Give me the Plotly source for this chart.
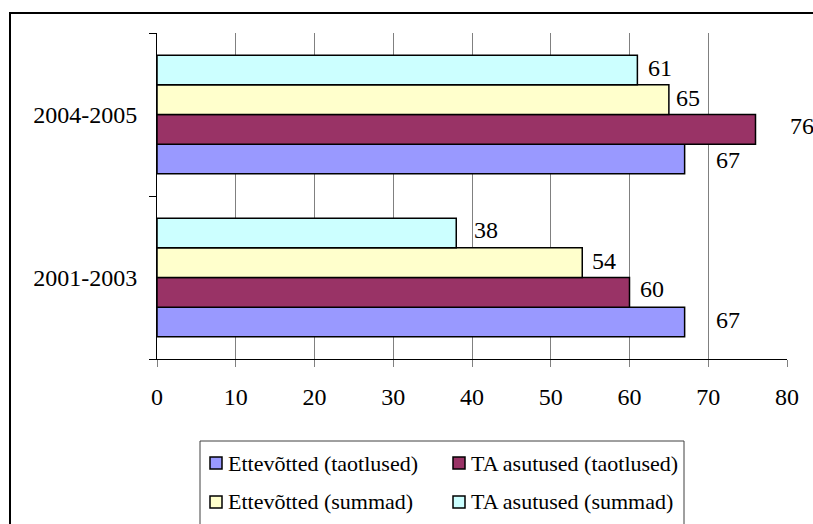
import plotly.graph_objects as go

# ---- data ----
periods = ["2001-2003", "2004-2005"]
series_names = [
    "Ettevõtted (taotlused)",
    "TA asutused (taotlused)",
    "Ettevõtted (summad)",
    "TA asutused (summad)",
]
ettevotted_taotlused = [67, 67]
ta_asutused_taotlused = [60, 76]
ettevotted_summad = [54, 65]
ta_asutused_summad = [38, 61]
x_ticks = [0, 10, 20, 30, 40, 50, 60, 70, 80]

series_values = [
    ettevotted_taotlused,
    ta_asutused_taotlused,
    ettevotted_summad,
    ta_asutused_summad,
]

# ---- styling ----
colors = ["#9999FF", "#993366", "#FFFFCC", "#CCFFFF"]
FONT = "Liberation Serif, Times New Roman, serif"
W, H = 813, 524
L, R, T, B = 157, 787, 33, 359          # plot area in pixels
BARGAP = 0.272

# horizontal offset (px) of each value label from its bar end, and vertical nudge
label_dx = [[31, 31], [10, 34], [10, 7], [18, 11]]
label_dy = [[2, -1], [3, 3], [2, 2], [3, 2]]


def px_x(p):
    return (p - L) / (R - L)


def px_y(p):
    return (B - p) / (B - T)


fig = go.Figure()
for name, vals, col in zip(series_names, series_values, colors):
    fig.add_trace(go.Bar(
        y=periods, x=vals, name=name, orientation="h",
        marker=dict(color=col, line=dict(color="black", width=1.5)),
        showlegend=False, hoverinfo="x+name",
    ))

# value labels next to the bars
n = len(series_values)
bar_w = (1 - BARGAP) / n
annotations = []
for i, vals in enumerate(series_values):
    for j, v in enumerate(vals):
        yc = j - (1 - BARGAP) / 2 + bar_w * (i + 0.5)
        annotations.append(dict(
            x=v, y=yc, xref="x", yref="y", text=f"{v:.0f}",
            showarrow=False, xanchor="left", yanchor="middle",
            xshift=label_dx[i][j], yshift=label_dy[i][j],
            borderpad=0, borderwidth=0,
            font=dict(family=FONT, size=24, color="black"),
        ))

shapes = []
# outer chart frame (top and left edges fall inside the canvas)
shapes.append(dict(
    type="line", xref="paper", yref="paper",
    x0=px_x(9), x1=px_x(813), y0=px_y(13), y1=px_y(13),
    line=dict(color="black", width=2),
))
shapes.append(dict(
    type="line", xref="paper", yref="paper",
    x0=px_x(10), x1=px_x(10), y0=px_y(12), y1=px_y(524),
    line=dict(color="black", width=2),
))
# legend box (open at the bottom edge of the canvas)
shapes.append(dict(
    type="path", xref="paper", yref="paper",
    path=(f"M {px_x(200)},{px_y(524)} L {px_x(200)},{px_y(441)} "
          f"L {px_x(684)},{px_y(441)} L {px_x(684)},{px_y(524)}"),
    line=dict(color="#404040", width=1),
))

# legend entries: two columns, two rows
leg_cols = [210, 453]
leg_rows = [463, 502]
for k, (name, col) in enumerate(zip(series_names, colors)):
    cx = leg_cols[k % 2]
    cy = leg_rows[k // 2]
    shapes.append(dict(
        type="rect", xref="paper", yref="paper",
        x0=px_x(cx), x1=px_x(cx + 12), y0=px_y(cy - 6), y1=px_y(cy + 6),
        line=dict(color="black", width=1.5), fillcolor=col,
    ))
    annotations.append(dict(
        x=px_x(cx + 18), y=px_y(cy), xref="paper", yref="paper",
        text=name, showarrow=False, xanchor="left", yanchor="middle",
        borderpad=0, borderwidth=0,
        font=dict(family=FONT, size=22, color="black"),
    ))

fig.update_layout(
    width=W, height=H,
    margin=dict(l=L, r=W - R, t=T, b=H - B, pad=0),
    paper_bgcolor="white", plot_bgcolor="white",
    barmode="group", bargap=BARGAP, bargroupgap=0,
    font=dict(family=FONT, size=24, color="black"),
    showlegend=False,
    shapes=shapes, annotations=annotations,
    xaxis=dict(
        range=[0, 80], tickvals=x_ticks, ticktext=[str(t) for t in x_ticks],
        showgrid=True, gridcolor="#808080", gridwidth=1,
        zeroline=False, showline=True, linecolor="black", linewidth=1,
        ticks="outside", ticklen=7, tickcolor="#808080", tickwidth=1,
        ticklabelstandoff=9,
        tickfont=dict(family=FONT, size=24, color="black"),
        fixedrange=True,
    ),
    yaxis=dict(
        type="category", categoryorder="array", categoryarray=periods,
        showgrid=False, zeroline=False,
        showline=True, linecolor="black", linewidth=1,
        ticks="outside", tickson="boundaries", ticklen=7,
        tickcolor="black", tickwidth=1,
        ticklabelstandoff=14,
        tickfont=dict(family=FONT, size=24, color="black"),
        fixedrange=True,
    ),
)

fig.write_html("out.html")
